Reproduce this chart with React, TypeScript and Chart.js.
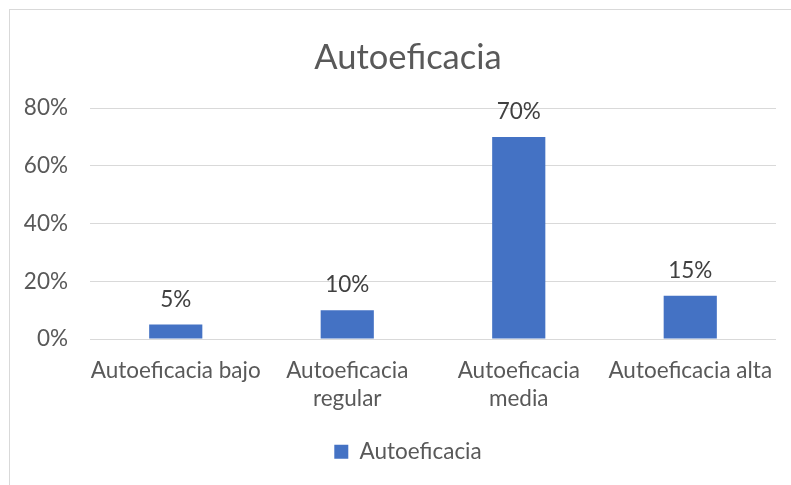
import React, { useEffect, useRef } from "react";
import { Chart, registerables } from "chart.js";

Chart.register(...registerables);

const categories: (string | string[])[] = [
  "Autoeficacia bajo",
  ["Autoeficacia", "regular"],
  ["Autoeficacia", "media"],
  "Autoeficacia alta",
];
const seriesName = "Autoeficacia";
const values = [5, 10, 70, 15];
const yTicks = [0, 20, 40, 60, 80];

const FONT = "Lato, 'Noto Sans', sans-serif";
const BLUE = "#4472C4";
const FS = 22.5;

const dataLabels = {
  id: "dataLabels",
  afterDatasetsDraw(chart: any) {
    const ctx = chart.ctx;
    const meta = chart.getDatasetMeta(0);
    ctx.save();
    ctx.font = `${FS}px ${FONT}`;
    ctx.fillStyle = "#404040";
    ctx.textAlign = "center";
    ctx.textBaseline = "middle";
    meta.data.forEach((el: any, i: number) => {
      ctx.fillText(values[i] + "%", el.x, el.y - 25);
    });
    ctx.restore();
  },
};

export default function App() {
  const ref = useRef<HTMLCanvasElement>(null);
  useEffect(() => {
    if (!ref.current) return;
    const mctx = document.createElement("canvas").getContext("2d")!;
    mctx.font = `${FS}px ${FONT}`;
    const widest = Math.max(...yTicks.map((v) => mctx.measureText(v + "%").width));
    const chart = new Chart(ref.current, {
      type: "bar",
      data: {
        labels: categories,
        datasets: [
          {
            label: seriesName,
            data: values,
            backgroundColor: BLUE,
            borderWidth: 0,
            categoryPercentage: 1,
            barPercentage: 0.31,
          },
        ],
      },
      options: {
        animation: false,
        responsive: false,
        maintainAspectRatio: false,
        layout: { padding: { left: 30, right: 15, top: 0, bottom: 12 } },
        plugins: {
          title: {
            display: true,
            text: "Autoeficacia",
            color: "#595959",
            font: { family: FONT, size: 34.5, weight: "normal" },
            padding: { top: 27, bottom: 29.6 },
          },
          legend: {
            display: true,
            position: "bottom",
            labels: {
              color: "#595959",
              font: { family: FONT, size: FS },
              boxWidth: 14,
              boxHeight: 14,
              padding: 10,
            },
          },
          tooltip: { enabled: false },
        },
        scales: {
          x: {
            grid: { display: false },
            border: { display: false },
            afterFit: (axis: any) => {
              axis.height = 91.5;
            },
            ticks: {
              color: "#595959",
              font: { family: FONT, size: FS, lineHeight: 1.244 },
              maxRotation: 0,
              autoSkip: false,
              padding: 10,
            },
          },
          y: {
            min: 0,
            max: 80,
            afterBuildTicks: (axis: any) => {
              axis.ticks = yTicks.map((v) => ({ value: v }));
            },
            afterFit: (axis: any) => {
              axis.width = 50;
            },
            grid: { color: "#D9D9D9", lineWidth: 1, drawTicks: false },
            border: { display: false },
            ticks: {
              mirror: true,
              crossAlign: "far",
              color: "#595959",
              font: { family: FONT, size: FS },
              padding: -22 - widest,
              callback: (v: any) => v + "%",
            },
          },
        },
      },
      plugins: [dataLabels],
    });
    return () => chart.destroy();
  }, []);
  return (
    <div
      style={{
        position: "absolute",
        left: 9,
        top: 9,
        width: 782,
        height: 476,
        borderLeft: "1px solid #D9D9D9",
        borderTop: "1px solid #D9D9D9",
        boxSizing: "border-box",
        background: "#fff",
      }}
    >
      <canvas ref={ref} width={781} height={475} style={{ display: "block" }} />
    </div>
  );
}
